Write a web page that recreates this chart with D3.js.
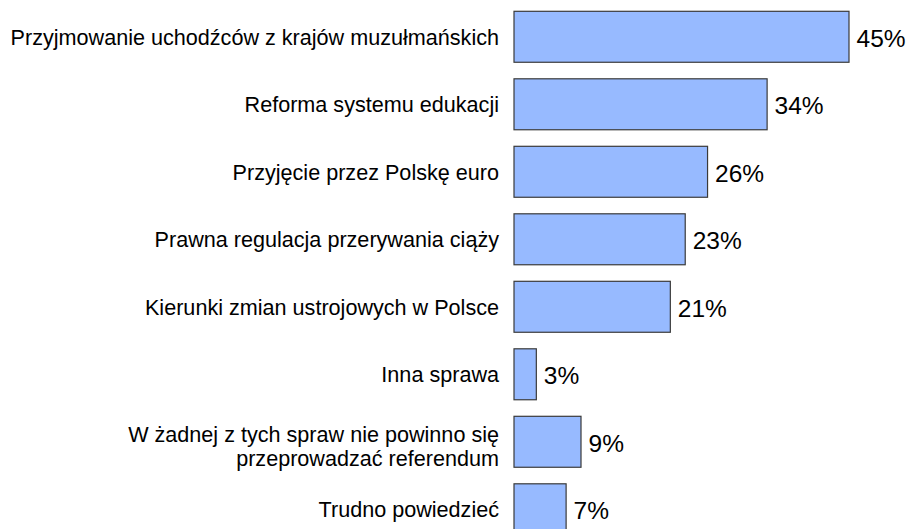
<!DOCTYPE html>
<html>
<head>
<meta charset="utf-8">
<script src="https://cdn.jsdelivr.net/npm/d3@7"></script>
<style>
  body { margin: 0; background: #fff; }
  svg { display: block; font-family: "Liberation Sans", Arial, sans-serif; }
</style>
</head>
<body>
<div id="chart"></div>
<script>
var categories = [
  ["Przyjmowanie uchodźców z krajów muzułmańskich"],
  ["Reforma systemu edukacji"],
  ["Przyjęcie przez Polskę euro"],
  ["Prawna regulacja przerywania ciąży"],
  ["Kierunki zmian ustrojowych w Polsce"],
  ["Inna sprawa"],
  ["W żadnej z tych spraw nie powinno się", "przeprowadzać referendum"],
  ["Trudno powiedzieć"]
];
var values = [45, 34, 26, 23, 21, 3, 9, 7];

var width = 910, height = 529;
var barLeft = 514;

var svg = d3.select("#chart").append("svg")
  .attr("width", width)
  .attr("height", height);

var yScale = d3.scaleBand()
  .domain(d3.range(categories.length))
  .range([11.3, 11.3 + 67.5 * (categories.length - 0.245)])
  .paddingInner(0.245)
  .paddingOuter(0);

var xScale = d3.scaleLinear()
  .domain([0, 45])
  .range([barLeft, 849]);

svg.selectAll("rect.bar")
  .data(values)
  .enter()
  .append("rect")
    .attr("class", "bar")
    .attr("x", xScale(0))
    .attr("y", function(d, i) { return yScale(i); })
    .attr("width", function(d) { return xScale(d) - xScale(0); })
    .attr("height", yScale.bandwidth())
    .attr("fill", "#97baff")
    .attr("stroke", "#3a3a3a")
    .attr("stroke-width", 1.2);

svg.selectAll("text.val")
  .data(values)
  .enter()
  .append("text")
    .attr("class", "val")
    .attr("x", function(d) { return xScale(d) + 7.5; })
    .attr("y", function(d, i) { return yScale(i) + yScale.bandwidth() / 2; })
    .attr("dy", "0.4em")
    .attr("font-size", 24.5)
    .attr("fill", "#000")
    .text(function(d) { return d + "%"; });

var labels = svg.selectAll("text.cat")
  .data(categories)
  .enter()
  .append("text")
    .attr("class", "cat")
    .attr("text-anchor", "end")
    .attr("font-size", 21.6)
    .attr("fill", "#000")
    .attr("y", function(d, i) { return yScale(i) + yScale.bandwidth() / 2; });

labels.selectAll("tspan")
  .data(function(d) { return d.map(function(t, j) { return {t: t, j: j, n: d.length}; }); })
  .enter()
  .append("tspan")
    .attr("x", 499)
    .attr("dy", function(d) {
      if (d.j === 0) return d.n > 1 ? "0em" : "0.36em";
      return "1.12em";
    })
    .text(function(d) { return d.t; });
</script>
</body>
</html>
